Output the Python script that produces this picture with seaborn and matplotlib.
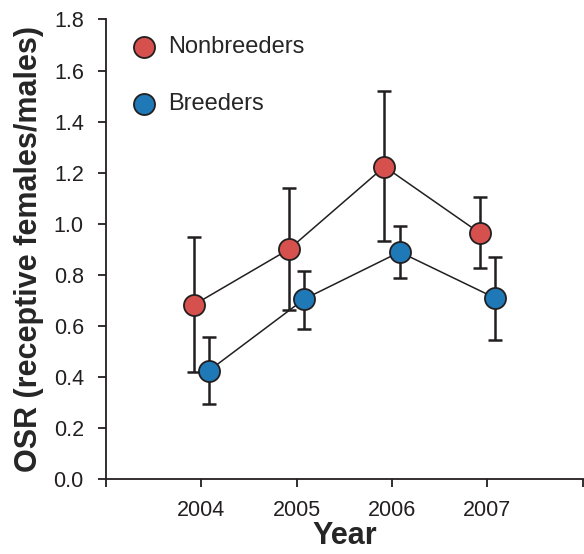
import numpy as np
import pandas as pd
import seaborn as sns
import matplotlib.pyplot as plt

# data
years = [2004, 2005, 2006, 2007]
nb_mean = [0.683, 0.901, 1.224, 0.964]
nb_low = [0.422, 0.663, 0.933, 0.829]
nb_high = [0.950, 1.140, 1.520, 1.105]
br_mean = [0.426, 0.706, 0.890, 0.710]
br_low = [0.297, 0.590, 0.790, 0.547]
br_high = [0.558, 0.816, 0.993, 0.870]

red = "#d6514d"
blue = "#1f79b6"
dark = "#231f20"

sns.set_style("ticks")
plt.rcParams['font.family'] = ['Liberation Sans', 'DejaVu Sans']

fig = plt.figure(figsize=(5.84, 5.54), dpi=100)
ax = fig.add_axes([0.1815, 0.1345, 0.8165, 0.8305])

groups = [
    ("Nonbreeders", nb_mean, nb_low, nb_high, red, -0.08),
    ("Breeders", br_mean, br_low, br_high, blue, 0.08),
]

for name, m, lo, hi, col, off in groups:
    df = pd.DataFrame({"year": np.array(years) + off, "osr": m})
    m_arr = np.array(m)
    yerr = [m_arr - np.array(lo), np.array(hi) - m_arr]
    ax.errorbar(df["year"], df["osr"], yerr=yerr, fmt="none", ecolor=dark,
                elinewidth=1.8, capsize=5, capthick=1.8, zorder=2)
    sns.lineplot(data=df, x="year", y="osr", ax=ax, color=dark, linewidth=1.1,
                 zorder=3, legend=False)
    sns.scatterplot(data=df, x="year", y="osr", ax=ax, color=col, s=230,
                    edgecolor=dark, linewidth=1.3, zorder=4, label=name)

ax.set_xlim(2003, 2008)
ax.set_ylim(0, 1.8)
ax.set_xticks([2003, 2004, 2005, 2006, 2007, 2008])
ax.set_xticklabels(["", "2004", "2005", "2006", "2007", ""])
ax.set_yticks(np.arange(0, 1.81, 0.2))
ax.set_yticklabels([f"{v:.1f}" for v in np.arange(0, 1.81, 0.2)])

ax.set_xlabel("Year", fontsize=22, fontweight="bold", labelpad=0)
ax.set_ylabel("OSR (receptive females/males)", fontsize=22, fontweight="bold", labelpad=7)
ax.tick_params(axis="both", labelsize=15.5, width=1.3, length=6, color=dark, labelcolor=dark)
ax.tick_params(axis="y", pad=10)
ax.tick_params(axis="x", pad=8.5)

for side in ["left", "bottom"]:
    ax.spines[side].set_linewidth(1.3)
    ax.spines[side].set_color(dark)
ax.spines["top"].set_visible(False)
ax.spines["right"].set_visible(False)

ax.legend(loc="upper left", bbox_to_anchor=(-0.005, 1.0), frameon=False,
          fontsize=17, labelspacing=1.5, handletextpad=0.05, borderaxespad=0.3,
          markerscale=1.0)

fig.savefig("out.png", dpi=100)
